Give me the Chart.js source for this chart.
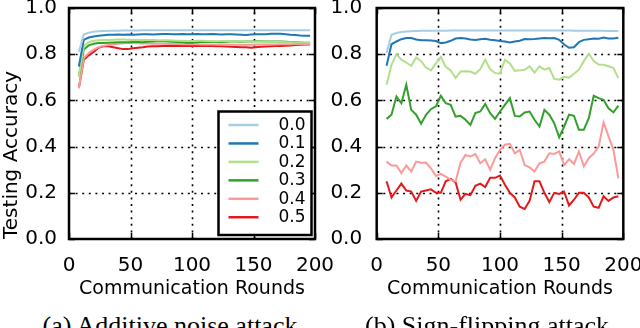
<!DOCTYPE html>
<html>
<head>
<meta charset="utf-8">
<script src="https://cdn.jsdelivr.net/npm/chart.js@4.4.1/dist/chart.umd.min.js"></script>
<style>
  body { margin: 0; background: #fff; }
  #wrap { position: relative; width: 640px; height: 328px; overflow: hidden; background: #fff; }
  canvas { position: absolute; top: 0; }
  .caption { position: absolute; top: 313px; font-family: "Liberation Serif", serif; font-size: 26px; line-height: 26px; white-space: nowrap; transform: translateX(-50%); color: #000; }
</style>
</head>
<body>
<div id="wrap">
  <canvas id="additiveChart" width="345" height="305" style="left:0;width:345px;height:305px"></canvas>
  <canvas id="signChart" width="320" height="305" style="left:320px;width:320px;height:305px"></canvas>
  <div class="caption" style="left:170px">(a) Additive noise attack</div>
  <div class="caption" style="left:487px">(b) Sign-flipping attack</div>
</div>
<script>
// communication rounds (x values)
const rounds = [8, 12, 16, 20, 24, 28, 32, 36, 40, 44, 48, 52,
  56, 60, 64, 68, 72, 76, 80, 84, 88, 92, 96, 100,
  104, 108, 112, 116, 120, 124, 128, 132, 136, 140, 144, 148,
  152, 156, 160, 164, 168, 172, 176, 180, 184, 188, 192, 196];

const labels = ['0.0', '0.1', '0.2', '0.3', '0.4', '0.5'];
const colors = ['#a6cee3', '#1f78b4', '#b2df8a', '#33a02c', '#fb9a99', '#e31a1c'];
const xTicks = [0, 50, 100, 150, 200];
const yTicks = [0, 0.2, 0.4, 0.6, 0.8, 1.0];

// (a) additive noise attack
const additive00 = [0.810, 0.885, 0.893, 0.897, 0.899, 0.900, 0.901, 0.902, 0.902, 0.903, 0.903, 0.903,
  0.903, 0.904, 0.904, 0.904, 0.904, 0.904, 0.904, 0.904, 0.904, 0.904, 0.904, 0.904,
  0.904, 0.904, 0.904, 0.904, 0.904, 0.904, 0.904, 0.904, 0.904, 0.904, 0.904, 0.904,
  0.904, 0.904, 0.904, 0.904, 0.904, 0.904, 0.904, 0.904, 0.904, 0.904, 0.904, 0.904];
const additive01 = [0.747, 0.862, 0.872, 0.877, 0.880, 0.882, 0.884, 0.884, 0.885, 0.884, 0.885, 0.884,
  0.885, 0.886, 0.886, 0.885, 0.886, 0.887, 0.887, 0.886, 0.886, 0.887, 0.886, 0.886,
  0.887, 0.886, 0.886, 0.887, 0.886, 0.885, 0.886, 0.886, 0.885, 0.884, 0.883, 0.885,
  0.886, 0.886, 0.886, 0.888, 0.889, 0.888, 0.886, 0.884, 0.883, 0.881, 0.880, 0.880];
const additive02 = [0.704, 0.835, 0.852, 0.858, 0.860, 0.862, 0.862, 0.863, 0.864, 0.864, 0.863, 0.862,
  0.863, 0.862, 0.861, 0.861, 0.860, 0.860, 0.860, 0.859, 0.858, 0.858, 0.857, 0.857,
  0.858, 0.858, 0.857, 0.856, 0.856, 0.857, 0.857, 0.856, 0.856, 0.856, 0.855, 0.855,
  0.855, 0.855, 0.854, 0.854, 0.854, 0.853, 0.852, 0.852, 0.851, 0.851, 0.850, 0.850];
const additive03 = [0.704, 0.820, 0.838, 0.845, 0.848, 0.849, 0.850, 0.851, 0.852, 0.852, 0.852, 0.853,
  0.853, 0.852, 0.854, 0.855, 0.856, 0.856, 0.855, 0.854, 0.853, 0.852, 0.850, 0.850,
  0.852, 0.853, 0.853, 0.854, 0.853, 0.853, 0.854, 0.855, 0.855, 0.854, 0.855, 0.855,
  0.856, 0.856, 0.855, 0.855, 0.855, 0.855, 0.854, 0.853, 0.852, 0.851, 0.850, 0.850];
const additive04 = [0.653, 0.783, 0.805, 0.820, 0.830, 0.836, 0.840, 0.843, 0.845, 0.847, 0.848, 0.848,
  0.847, 0.846, 0.846, 0.845, 0.845, 0.845, 0.844, 0.844, 0.844, 0.843, 0.843, 0.843,
  0.843, 0.842, 0.842, 0.842, 0.842, 0.842, 0.842, 0.841, 0.841, 0.841, 0.841, 0.841,
  0.842, 0.842, 0.842, 0.842, 0.842, 0.843, 0.843, 0.843, 0.844, 0.844, 0.844, 0.844];
const additive05 = [0.653, 0.776, 0.795, 0.810, 0.828, 0.834, 0.834, 0.830, 0.826, 0.822, 0.822, 0.826,
  0.828, 0.830, 0.833, 0.834, 0.834, 0.835, 0.835, 0.836, 0.836, 0.835, 0.835, 0.836,
  0.837, 0.836, 0.836, 0.835, 0.834, 0.834, 0.833, 0.832, 0.831, 0.830, 0.830, 0.828,
  0.830, 0.832, 0.833, 0.834, 0.835, 0.836, 0.837, 0.838, 0.840, 0.841, 0.842, 0.842];

// (b) sign-flipping attack
const signflip00 = [0.805, 0.884, 0.892, 0.896, 0.898, 0.899, 0.900, 0.901, 0.901, 0.902, 0.902, 0.902,
  0.902, 0.903, 0.903, 0.903, 0.903, 0.903, 0.903, 0.903, 0.903, 0.903, 0.903, 0.903,
  0.903, 0.903, 0.903, 0.903, 0.903, 0.903, 0.903, 0.903, 0.903, 0.903, 0.903, 0.903,
  0.903, 0.903, 0.902, 0.902, 0.902, 0.902, 0.901, 0.901, 0.901, 0.900, 0.900, 0.900];
const signflip01 = [0.750, 0.843, 0.855, 0.865, 0.870, 0.870, 0.864, 0.860, 0.860, 0.859, 0.857, 0.848,
  0.851, 0.858, 0.868, 0.870, 0.868, 0.864, 0.862, 0.865, 0.867, 0.863, 0.860, 0.857,
  0.855, 0.851, 0.855, 0.858, 0.866, 0.865, 0.866, 0.868, 0.870, 0.869, 0.870, 0.862,
  0.842, 0.828, 0.830, 0.852, 0.862, 0.865, 0.868, 0.867, 0.872, 0.868, 0.868, 0.871];
const signflip02 = [0.668, 0.754, 0.800, 0.776, 0.764, 0.750, 0.786, 0.770, 0.742, 0.730, 0.760, 0.788,
  0.745, 0.730, 0.697, 0.725, 0.726, 0.725, 0.715, 0.735, 0.776, 0.735, 0.718, 0.716,
  0.776, 0.760, 0.728, 0.730, 0.733, 0.747, 0.720, 0.747, 0.733, 0.740, 0.693, 0.690,
  0.702, 0.698, 0.715, 0.733, 0.770, 0.802, 0.770, 0.755, 0.754, 0.748, 0.740, 0.697];
const signflip03 = [0.520, 0.538, 0.617, 0.588, 0.668, 0.559, 0.538, 0.499, 0.538, 0.562, 0.574, 0.620,
  0.588, 0.581, 0.530, 0.533, 0.516, 0.494, 0.545, 0.552, 0.585, 0.545, 0.520, 0.552,
  0.581, 0.610, 0.533, 0.530, 0.548, 0.552, 0.516, 0.487, 0.559, 0.538, 0.501, 0.440,
  0.487, 0.538, 0.533, 0.473, 0.473, 0.523, 0.620, 0.610, 0.603, 0.566, 0.548, 0.577];
const signflip04 = [0.335, 0.318, 0.318, 0.285, 0.318, 0.292, 0.335, 0.330, 0.331, 0.306, 0.273, 0.282,
  0.270, 0.256, 0.250, 0.330, 0.364, 0.357, 0.368, 0.328, 0.345, 0.300, 0.350, 0.386,
  0.408, 0.412, 0.371, 0.386, 0.320, 0.310, 0.292, 0.328, 0.335, 0.371, 0.368, 0.379,
  0.320, 0.345, 0.325, 0.379, 0.314, 0.350, 0.370, 0.400, 0.505, 0.444, 0.386, 0.263];
const signflip05 = [0.250, 0.180, 0.210, 0.240, 0.210, 0.205, 0.165, 0.205, 0.210, 0.215, 0.200, 0.200,
  0.250, 0.260, 0.245, 0.170, 0.195, 0.190, 0.230, 0.240, 0.225, 0.265, 0.265, 0.275,
  0.235, 0.200, 0.180, 0.140, 0.130, 0.165, 0.250, 0.250, 0.200, 0.160, 0.200, 0.195,
  0.205, 0.145, 0.170, 0.200, 0.200, 0.180, 0.140, 0.135, 0.185, 0.165, 0.180, 0.185];

const FONT = 'DejaVu Sans';

// dotted grid under the lines; black frame plus inward tick marks on top
const framePlugin = {
  id: 'frame',
  beforeDatasetsDraw(chart) {
    const { ctx, chartArea: a, scales } = chart;
    ctx.save();
    ctx.strokeStyle = '#000';
    ctx.lineWidth = 1.6;
    ctx.setLineDash([2, 4.6]);
    ctx.beginPath();
    xTicks.slice(1, -1).forEach(v => {
      const px = Math.round(scales.x.getPixelForValue(v)) + 0.5;
      ctx.moveTo(px, a.bottom);
      ctx.lineTo(px, a.top);
    });
    yTicks.slice(1, -1).forEach(v => {
      const py = Math.round(scales.y.getPixelForValue(v)) + 0.5;
      ctx.moveTo(a.left, py);
      ctx.lineTo(a.right, py);
    });
    ctx.stroke();
    ctx.restore();
  },
  afterDatasetsDraw(chart) {
    const { ctx, chartArea: a, scales } = chart;
    ctx.save();
    ctx.strokeStyle = '#000';
    ctx.lineWidth = 1.5;
    ctx.beginPath();
    xTicks.forEach(v => {
      const px = Math.round(scales.x.getPixelForValue(v)) + 0.5;
      ctx.moveTo(px, a.bottom); ctx.lineTo(px, a.bottom - 6);
      ctx.moveTo(px, a.top); ctx.lineTo(px, a.top + 6);
    });
    yTicks.forEach(v => {
      const py = Math.round(scales.y.getPixelForValue(v)) + 0.5;
      ctx.moveTo(a.left, py); ctx.lineTo(a.left + 6, py);
      ctx.moveTo(a.right, py); ctx.lineTo(a.right - 6, py);
    });
    ctx.stroke();
    ctx.lineWidth = 2.5;
    ctx.strokeRect(a.left, a.top, a.right - a.left, a.bottom - a.top);
    ctx.restore();
  }
};

// boxed legend in the lower right corner of the plot
const boxLegend = {
  id: 'boxLegend',
  afterDraw(chart) {
    const { ctx, chartArea: a } = chart;
    const left = a.right - 96.5, top = a.top + 103.5;
    const right = a.right - 3.5, bottom = a.bottom - 4;
    ctx.save();
    ctx.fillStyle = '#fff';
    ctx.fillRect(left, top, right - left, bottom - top);
    ctx.strokeStyle = '#000';
    ctx.lineWidth = 2.5;
    ctx.strokeRect(left, top, right - left, bottom - top);
    ctx.font = '17px "' + FONT + '"';
    ctx.textBaseline = 'middle';
    ctx.fillStyle = '#000';
    chart.data.datasets.forEach((ds, i) => {
      const y = top + 13.5 + i * 18.45;
      ctx.strokeStyle = ds.borderColor;
      ctx.lineWidth = 2.5;
      ctx.beginPath();
      ctx.moveTo(left + 10, y);
      ctx.lineTo(left + 40, y);
      ctx.stroke();
      ctx.fillText(ds.label, left + 60, y + 0.5);
    });
    ctx.restore();
  }
};

function makeChart(id, series, opts) {
  const ctx = document.getElementById(id).getContext('2d');
  return new Chart(ctx, {
    type: 'line',
    data: {
      datasets: series.map((s, i) => ({
        label: labels[i],
        data: rounds.map((r, j) => ({ x: r, y: s[j] })),
        borderColor: colors[i],
        borderWidth: 2,
        pointRadius: 0,
        tension: 0,
        fill: false
      }))
    },
    options: {
      responsive: false,
      animation: false,
      devicePixelRatio: 1,
      layout: { padding: { left: 0, top: 8, right: opts.padRight, bottom: 0 } },
      plugins: { legend: { display: false }, tooltip: { enabled: false } },
      scales: {
        x: {
          type: 'linear',
          min: 0,
          max: 200,
          afterBuildTicks: s => { s.ticks = xTicks.map(v => ({ value: v })); },
          afterFit: s => { s.height = 66; s.paddingLeft = 0; s.paddingRight = 0; },
          ticks: {
            color: '#000',
            padding: 7,
            maxRotation: 0,
            font: { family: FONT, size: 20 }
          },
          grid: { display: false },
          border: { display: false },
          title: {
            display: true,
            text: 'Communication Rounds',
            color: '#000',
            font: { family: FONT, size: 19 },
            padding: { top: 0, bottom: 5 }
          }
        },
        y: {
          min: 0,
          max: 1,
          afterBuildTicks: s => { s.ticks = yTicks.map(v => ({ value: v })); },
          afterFit: s => { s.width = opts.yWidth; s.paddingTop = 0; s.paddingBottom = 0; },
          ticks: {
            color: '#000',
            padding: opts.yPad,
            font: { family: FONT, size: 20 },
            callback: v => v.toFixed(1)
          },
          grid: { display: false },
          border: { display: false },
          title: {
            display: opts.yTitle,
            text: 'Testing Accuracy',
            align: 'start',
            color: '#000',
            font: { family: FONT, size: 20 },
            padding: { top: 0, bottom: 0 }
          }
        }
      }
    },
    plugins: opts.legend ? [framePlugin, boxLegend] : [framePlugin]
  });
}

makeChart('additiveChart',
  [additive00, additive01, additive02, additive03, additive04, additive05],
  { padRight: 30, yWidth: 69, yPad: 4, yTitle: true, legend: true });

makeChart('signChart',
  [signflip00, signflip01, signflip02, signflip03, signflip04, signflip05],
  { padRight: 16.7, yWidth: 56.7, yPad: 6.5, yTitle: false, legend: false });
</script>
</body>
</html>
